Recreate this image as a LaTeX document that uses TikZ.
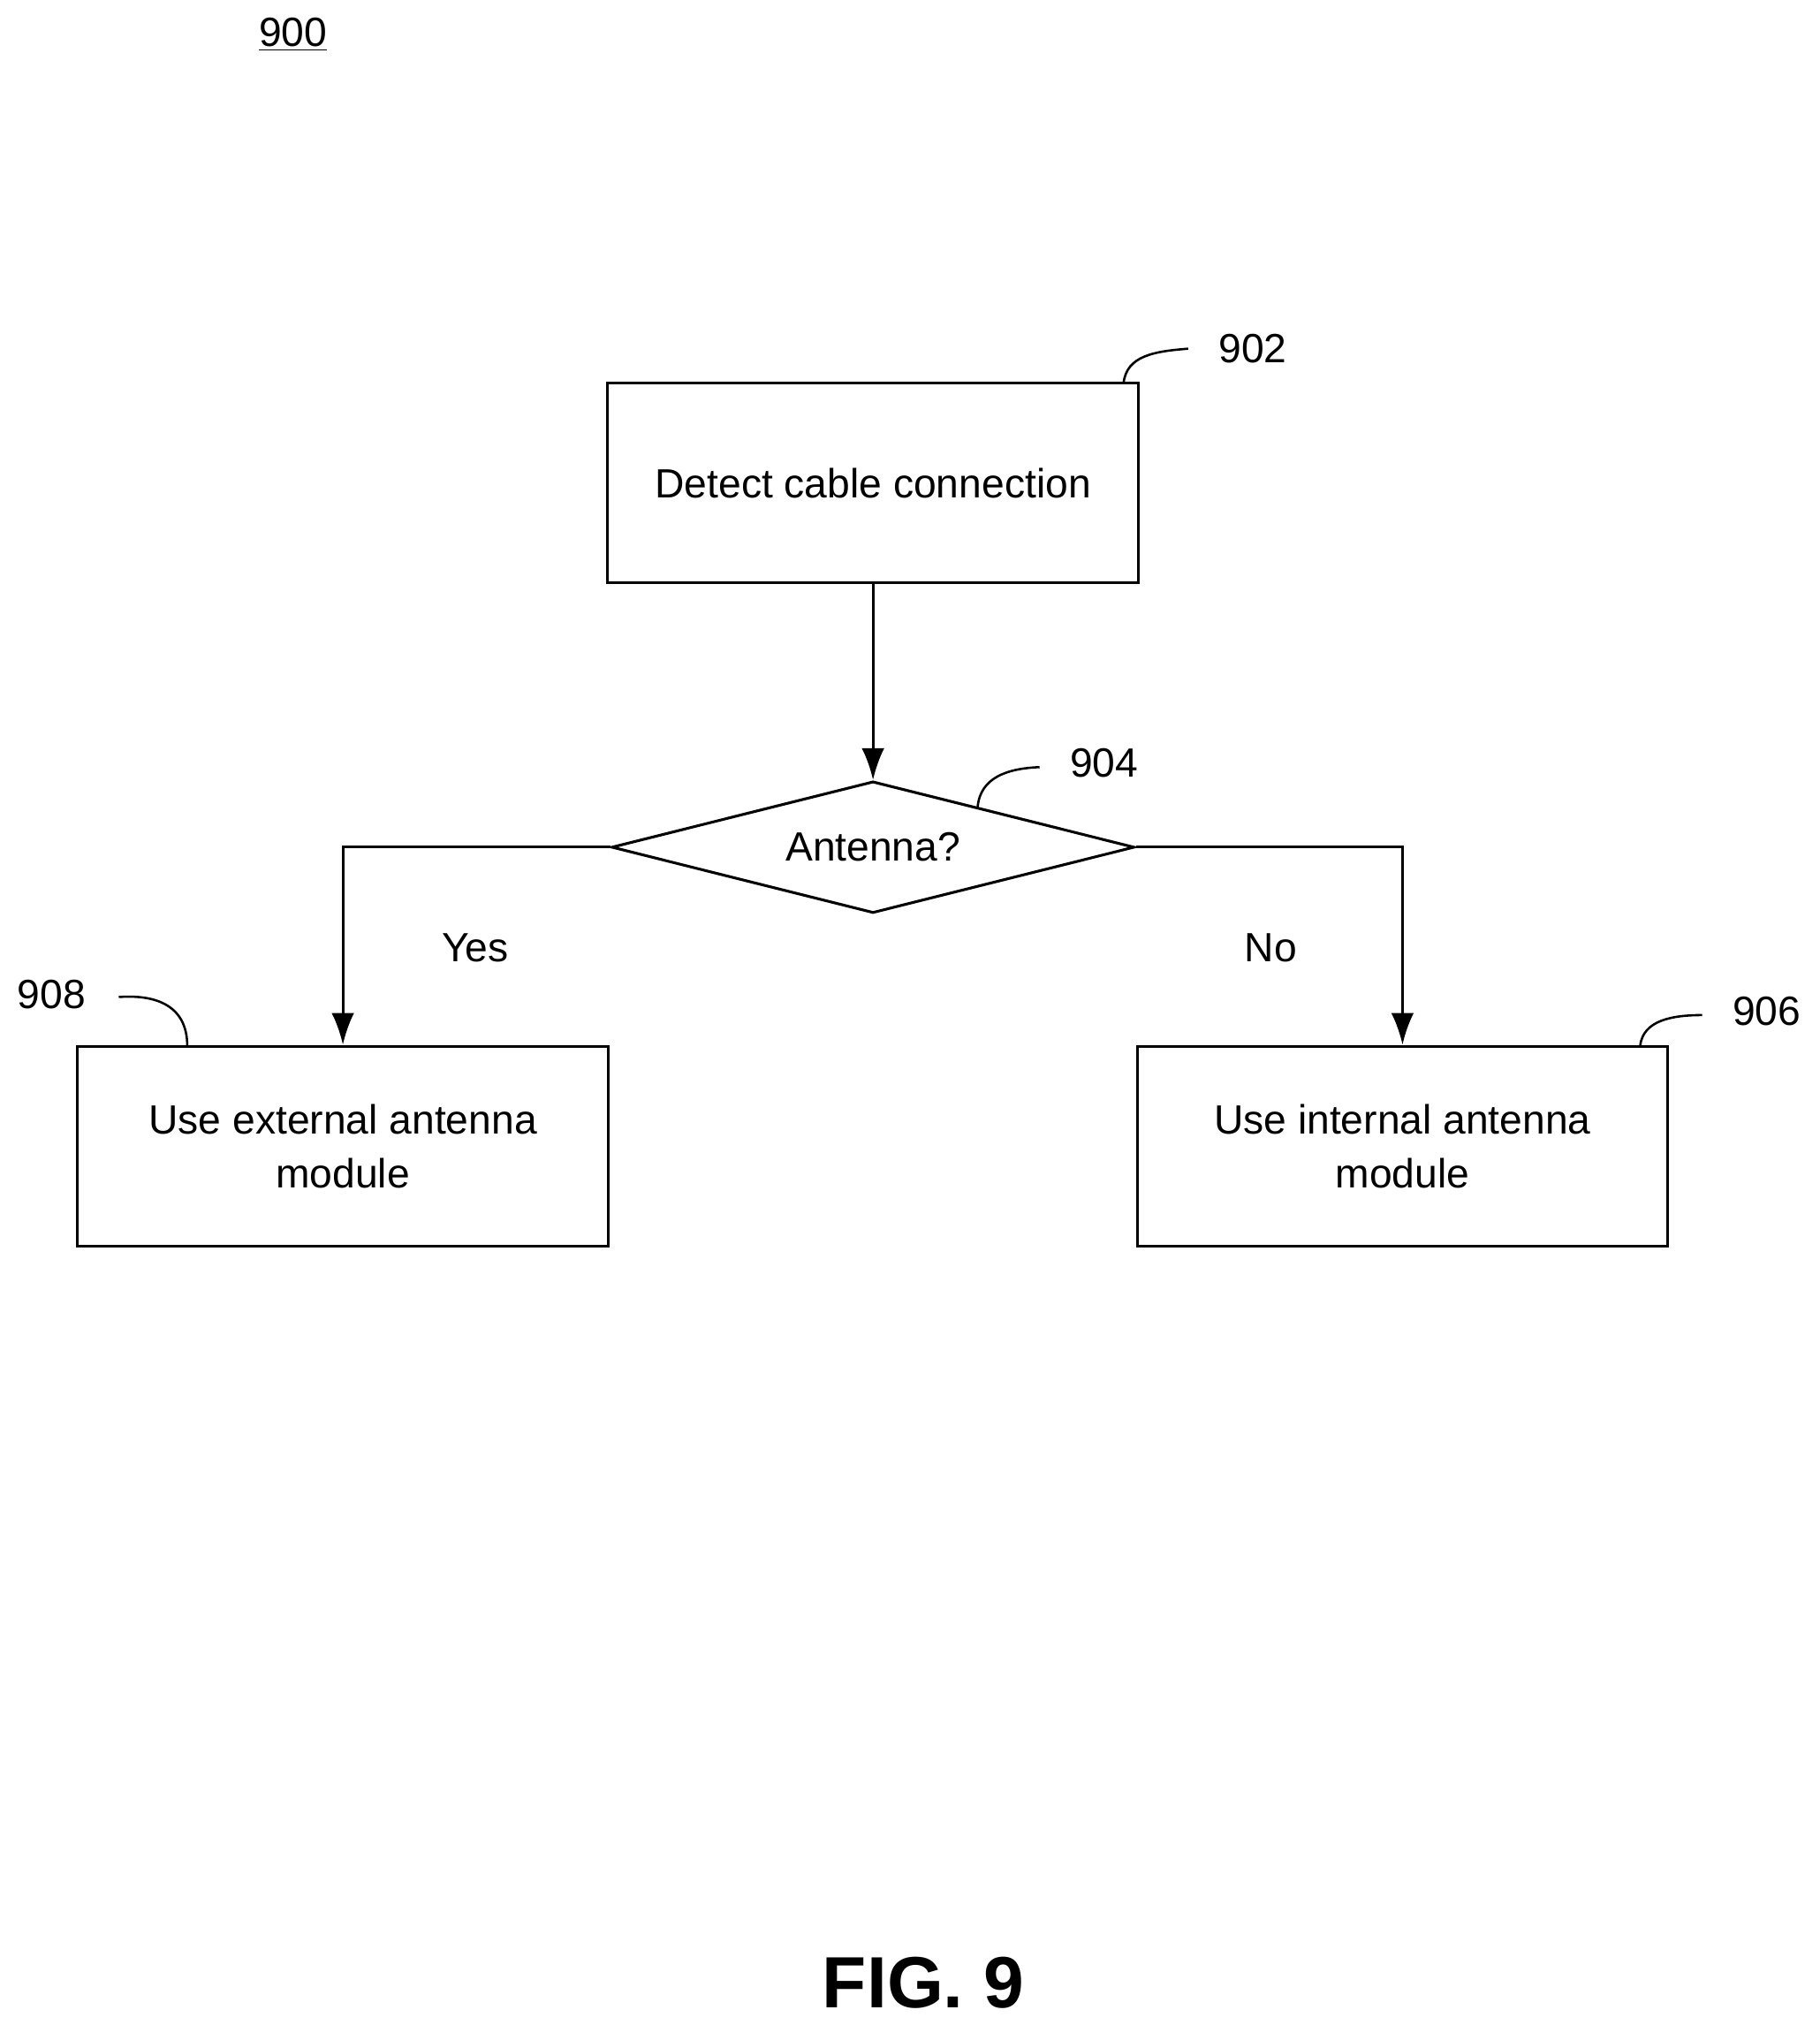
\documentclass[tikz,border=0pt]{standalone}
\usepackage{fontspec}
\setmainfont{Liberation Sans}
\usetikzlibrary{shapes.geometric,arrows.meta}

\begin{document}
\begin{tikzpicture}[x=0.02cm, y=-0.02cm]
	\tikzset{
		stepbox/.style={draw, line width=1.2pt, minimum width=8.22cm, minimum height=3.1cm, align=center, font=\fontsize{18}{24}\selectfont, inner sep=0pt},
		decide/.style={draw, line width=1.2pt, diamond, aspect=4, minimum width=8.1cm, minimum height=2.04cm, font=\fontsize{18}{24}\selectfont, inner sep=0pt},
		flow/.style={line width=1.2pt, -{Latex[length=14pt, width=10pt]}},
		lead/.style={line width=1pt},
		reflabel/.style={font=\fontsize{18}{22}\selectfont, inner sep=1pt}
	}
	\useasboundingbox (0,0) rectangle (1409,1568);
	\node[reflabel] (fig) at (227,27) {\underline{900}};

	\node[stepbox] (detect) at (676,374) {Detect cable connection};
	\node[decide] (antenna) at (676,656) {Antenna?};
	\node[stepbox] (external) at (265.5,887.5) {Use external antenna\\module};
	\node[stepbox] (internal) at (1086,887.5) {Use internal antenna\\module};

	\draw[flow] (detect) -- (antenna);
	\draw[flow] (antenna.west) -| (external.north);
	\draw[flow] (antenna.east) -| (internal.north);
	\node[reflabel] (yes) at (368,734) {Yes};
	\node[reflabel] (no) at (984,734) {No};

	% reference numerals
	\node[reflabel] (n902) at (970,270) {902};
	\node[reflabel] (n904) at (855,591) {904};
	\node[reflabel] (n908) at (40,770) {908};
	\node[reflabel] (n906) at (1368,783) {906};
	\draw[lead] (870,297) .. controls (872,275) and (895,272) .. (920,270);
	\draw[lead] (757,625) .. controls (759,602) and (780,595) .. (805,594);
	\draw[lead] (92,772) .. controls (120,770) and (145,778) .. (145,810);
	\draw[lead] (1270,810) .. controls (1272,790) and (1295,786) .. (1318,786);

	\node[font=\bfseries\fontsize{32}{36}\selectfont] (caption) at (715,1535) {FIG. 9};
\end{tikzpicture}
\end{document}
